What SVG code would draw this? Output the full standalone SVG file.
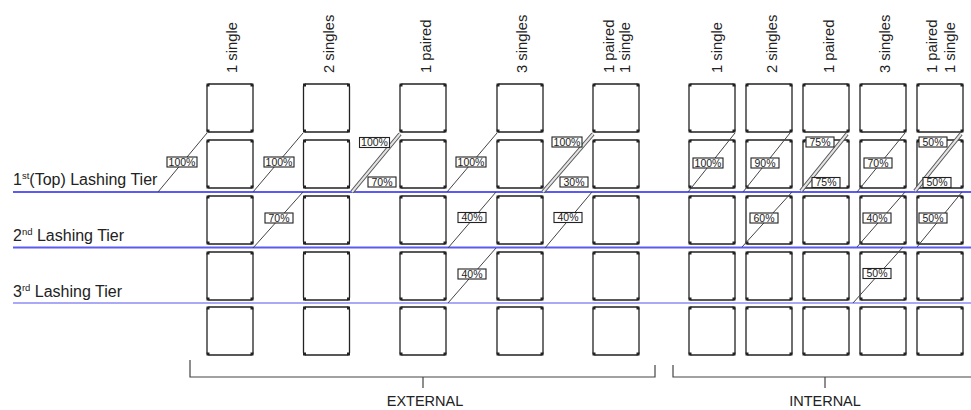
<svg xmlns="http://www.w3.org/2000/svg" xmlns:xlink="http://www.w3.org/1999/xlink" width="971" height="410" viewBox="0 0 971 410">
<style>
  text { font-family: "Liberation Sans", Arial, sans-serif; fill: #222; }
  .hdr { font-size: 14.8px; }
  .tier { font-size: 16px; }
  .sup { font-size: 9.5px; }
  .grp { font-size: 14.5px; text-anchor: middle; }
  .pct rect { fill: #fff; stroke: #222; stroke-width: 1.1; }
  .pct text { font-size: 10.5px; text-anchor: middle; }
  .lash { stroke: #444; stroke-width: 1; fill: none; }
  .pairO { stroke: #555; stroke-width: 4; fill: none; }
  .pairI { stroke: #e4e4e4; stroke-width: 2; fill: none; }
  .tierline { stroke: #5b5bf0; stroke-width: 2; }
  .tierline3 { stroke: #8c8cf5; stroke-width: 1.6; }
  .bracket { stroke: #444; stroke-width: 1.2; fill: none; }
</style>
<defs>
  <g id="box">
    <rect x="0" y="0" width="46" height="48" rx="2.5" fill="#fff" stroke="#222" stroke-width="1.3"/>
    <rect x="-0.5" y="-0.5" width="3" height="3" fill="#222"/>
    <rect x="43.5" y="-0.5" width="3" height="3" fill="#222"/>
    <rect x="-0.5" y="45.5" width="3" height="3" fill="#222"/>
    <rect x="43.5" y="45.5" width="3" height="3" fill="#222"/>
  </g>
  <g id="stack">
    <use xlink:href="#box" href="#box" y="84"/>
    <use xlink:href="#box" href="#box" y="140"/>
    <use xlink:href="#box" href="#box" y="196"/>
    <use xlink:href="#box" href="#box" y="252"/>
    <use xlink:href="#box" href="#box" y="307"/>
  </g>
</defs>
<rect width="971" height="410" fill="#fff"/>

<!-- Column nodes: External -->
<g id="ext-1-single">
  <use xlink:href="#stack" href="#stack" x="207"/>
  <text class="hdr" transform="translate(237,73) rotate(-90)">1 single</text>
</g>
<g id="ext-2-singles">
  <use xlink:href="#stack" href="#stack" x="303.5"/>
  <text class="hdr" transform="translate(334,73) rotate(-90)">2 singles</text>
</g>
<g id="ext-1-paired">
  <use xlink:href="#stack" href="#stack" x="400"/>
  <text class="hdr" transform="translate(431,73) rotate(-90)">1 paired</text>
</g>
<g id="ext-3-singles">
  <use xlink:href="#stack" href="#stack" x="497"/>
  <text class="hdr" transform="translate(527,73) rotate(-90)">3 singles</text>
</g>
<g id="ext-1-paired-1-single">
  <use xlink:href="#stack" href="#stack" x="593"/>
  <text class="hdr" transform="translate(614,73) rotate(-90)">1 paired</text>
  <text class="hdr" transform="translate(630,73) rotate(-90)">1 single</text>
</g>

<!-- Column nodes: Internal -->
<g id="int-1-single">
  <use xlink:href="#stack" href="#stack" x="689"/>
  <text class="hdr" transform="translate(722,73) rotate(-90)">1 single</text>
</g>
<g id="int-2-singles">
  <use xlink:href="#stack" href="#stack" x="746"/>
  <text class="hdr" transform="translate(777,73) rotate(-90)">2 singles</text>
</g>
<g id="int-1-paired">
  <use xlink:href="#stack" href="#stack" x="803"/>
  <text class="hdr" transform="translate(834,73) rotate(-90)">1 paired</text>
</g>
<g id="int-3-singles">
  <use xlink:href="#stack" href="#stack" x="860"/>
  <text class="hdr" transform="translate(890,73) rotate(-90)">3 singles</text>
</g>
<g id="int-1-paired-1-single">
  <use xlink:href="#stack" href="#stack" x="917"/>
  <text class="hdr" transform="translate(937,73) rotate(-90)">1 paired</text>
  <text class="hdr" transform="translate(955,73) rotate(-90)">1 single</text>
</g>

<!-- Tier lines and labels -->
<g id="tiers">
  <line class="tierline" x1="13" y1="192" x2="971" y2="192"/>
  <line class="tierline" x1="13" y1="247.5" x2="971" y2="247.5"/>
  <line class="tierline3" x1="13" y1="303" x2="971" y2="303"/>
  <text class="tier" x="13" y="185">1<tspan class="sup" dy="-6">st</tspan><tspan dy="6">(Top) Lashing Tier</tspan></text>
  <text class="tier" x="13" y="241">2<tspan class="sup" dy="-6">nd</tspan><tspan dy="6"> Lashing Tier</tspan></text>
  <text class="tier" x="13" y="297">3<tspan class="sup" dy="-6">rd</tspan><tspan dy="6"> Lashing Tier</tspan></text>
</g>

<!-- Connectors: lashing rods -->
<g id="connectors">
  <line class="lash" x1="158" y1="192" x2="207" y2="133"/>
  <line class="lash" x1="253" y1="192" x2="303" y2="133"/>
  <line class="lash" x1="253" y1="248" x2="303" y2="192"/>
  <line class="pairO" x1="352" y1="192" x2="400" y2="134"/>
  <line class="pairI" x1="352" y1="192" x2="400" y2="134"/>
  <line class="lash" x1="447" y1="192" x2="497" y2="133"/>
  <line class="lash" x1="448" y1="248" x2="496" y2="192"/>
  <line class="lash" x1="448" y1="303" x2="496" y2="248"/>
  <line class="pairO" x1="543" y1="192" x2="593" y2="134"/>
  <line class="pairI" x1="543" y1="192" x2="593" y2="134"/>
  <line class="lash" x1="545" y1="248" x2="592" y2="192"/>

  <line class="lash" x1="688" y1="192" x2="735" y2="133"/>
  <line class="lash" x1="743" y1="192" x2="790" y2="133"/>
  <line class="lash" x1="742" y1="247" x2="792" y2="192"/>
  <line class="pairO" x1="801" y1="191" x2="847" y2="134"/>
  <line class="pairI" x1="801" y1="191" x2="847" y2="134"/>
  <line class="lash" x1="857" y1="192" x2="905" y2="133"/>
  <line class="lash" x1="857" y1="247" x2="905" y2="192"/>
  <line class="lash" x1="853" y1="303" x2="903" y2="247"/>
  <line class="pairO" x1="915" y1="191" x2="961" y2="134"/>
  <line class="pairI" x1="915" y1="191" x2="961" y2="134"/>
  <line class="lash" x1="917" y1="247" x2="962" y2="192"/>
</g>

<!-- Percentage labels -->
<g id="pct-labels" class="pct">
  <rect x="167" y="157" width="30" height="10"/><text x="182" y="165.8">100%</text>
  <rect x="264" y="157" width="30" height="10"/><text x="279" y="165.8">100%</text>
  <rect x="265" y="213" width="28" height="10"/><text x="279" y="221.8">70%</text>
  <rect x="359.5" y="137.5" width="30" height="10"/><text x="374.5" y="146.3">100%</text>
  <rect x="368" y="177" width="28" height="10"/><text x="382" y="185.8">70%</text>
  <rect x="456" y="157" width="30" height="10"/><text x="471" y="165.8">100%</text>
  <rect x="458" y="212.5" width="28" height="10"/><text x="472" y="221.3">40%</text>
  <rect x="458" y="269" width="28" height="10"/><text x="472" y="277.8">40%</text>
  <rect x="552" y="137" width="30" height="10"/><text x="567" y="145.8">100%</text>
  <rect x="560" y="177" width="28" height="10"/><text x="574" y="185.8">30%</text>
  <rect x="554" y="212.5" width="28" height="10"/><text x="568" y="221.3">40%</text>

  <rect x="693" y="158" width="30" height="10"/><text x="708" y="166.8">100%</text>
  <rect x="751" y="158" width="28" height="10"/><text x="765" y="166.8">90%</text>
  <rect x="750" y="213" width="28" height="10"/><text x="764" y="221.8">60%</text>
  <rect x="806" y="137" width="28" height="10"/><text x="820" y="145.8">75%</text>
  <rect x="812" y="177.5" width="28" height="10"/><text x="826" y="186.3">75%</text>
  <rect x="864" y="158" width="28" height="10"/><text x="878" y="166.8">70%</text>
  <rect x="863" y="213" width="28" height="10"/><text x="877" y="221.8">40%</text>
  <rect x="863" y="268.5" width="28" height="10"/><text x="877" y="277.3">50%</text>
  <rect x="919" y="137" width="28" height="10"/><text x="933" y="145.8">50%</text>
  <rect x="923" y="177.5" width="28" height="10"/><text x="937" y="186.3">50%</text>
  <rect x="919" y="213" width="28" height="10"/><text x="933" y="221.8">50%</text>
</g>

<!-- Group brackets -->
<g id="external-group">
  <path class="bracket" d="M190,360 V377 H655 V365 M423,377 V388"/>
  <text class="grp" x="425" y="406">EXTERNAL</text>
</g>
<g id="internal-group">
  <path class="bracket" d="M673,365 V377 H971 M825,377 V388"/>
  <text class="grp" x="825" y="406">INTERNAL</text>
</g>
</svg>
